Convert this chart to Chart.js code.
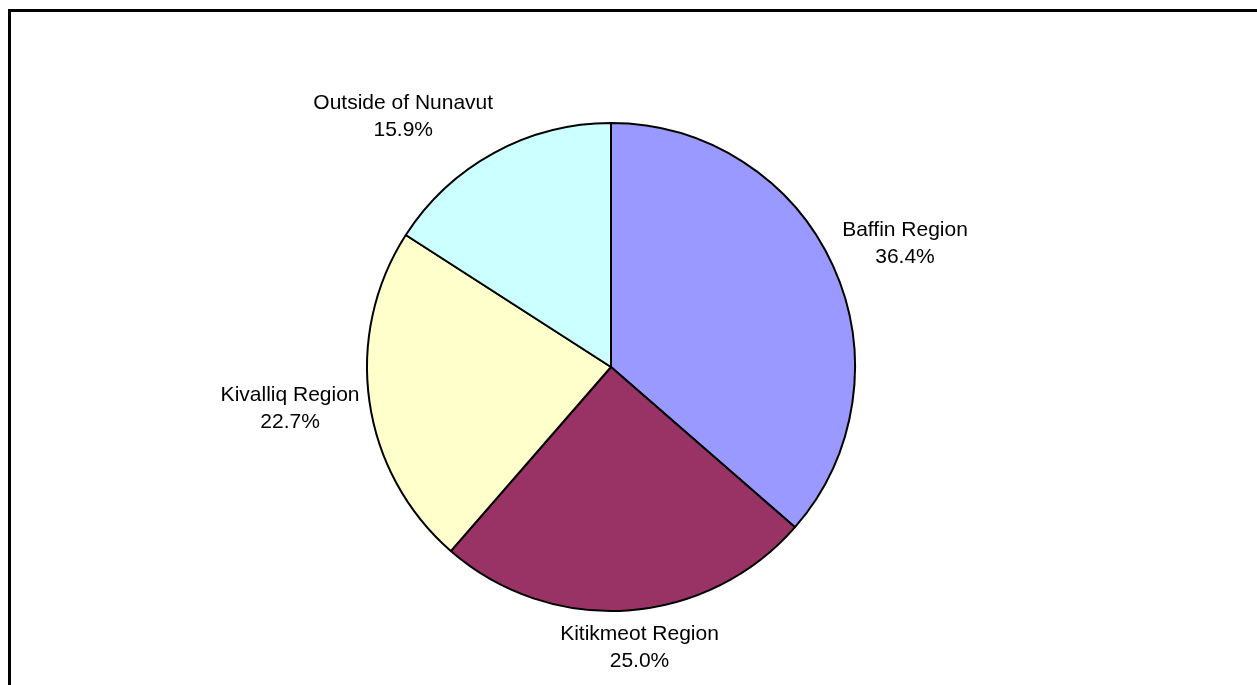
<!DOCTYPE html>
<html>
<head>
<meta charset="utf-8">
<title>Nunavut regions</title>
<script src="https://cdn.jsdelivr.net/npm/chart.js@4"></script>
<style>
  html, body { margin: 0; padding: 0; background: #fff; }
  canvas { display: block; }
</style>
</head>
<body>
<canvas id="regions-chart" width="1257" height="685"></canvas>
<script>
const categories = ['Baffin Region', 'Kitikmeot Region', 'Kivalliq Region', 'Outside of Nunavut'];
const shares = [36.4, 25.0, 22.7, 15.9];
const sliceColors = ['#9999FF', '#993366', '#FFFFCC', '#CCFFFF'];

// white page with the thick outer frame, cut off at right and bottom
const framePlugin = {
    id: 'frame',
    beforeDraw(chart) {
        const ctx = chart.ctx;
        ctx.save();
        ctx.fillStyle = '#fff';
        ctx.fillRect(0, 0, chart.width, chart.height);
        ctx.strokeStyle = '#000';
        ctx.lineWidth = 3;
        ctx.strokeRect(9.5, 10.5, chart.width + 50, chart.height + 50);
        ctx.restore();
    }
};

// two-line labels (name + percent) placed outside each slice
const outsideLabels = {
    id: 'outsideLabels',
    afterDatasetsDraw(chart) {
        const ctx = chart.ctx;
        const meta = chart.getDatasetMeta(0);
        const gap = 10;
        const lineStep = 27;
        ctx.save();
        ctx.font = '21px "Liberation Sans", Arial, sans-serif';
        ctx.fillStyle = '#000';
        ctx.textAlign = 'center';
        ctx.textBaseline = 'middle';
        meta.data.forEach((arc, i) => {
            const p = arc.getProps(['x', 'y', 'startAngle', 'endAngle', 'outerRadius'], true);
            const mid = (p.startAngle + p.endAngle) / 2;
            const dx = Math.cos(mid), dy = Math.sin(mid);
            const lines = [categories[i], shares[i].toFixed(1) + '%'];
            const w = Math.max(...lines.map(t => ctx.measureText(t).width));
            const h = lineStep * 2;
            const ax = p.x + dx * (p.outerRadius + gap);
            const ay = p.y + dy * (p.outerRadius + gap);
            const sx = Math.max(-1, Math.min(1, dx * 2));
            const sy = Math.max(-1, Math.min(1, dy * 1.6));
            const cx = ax + sx * w / 2;
            const cy = ay + sy * h / 2;
            ctx.fillText(lines[0], cx, cy - lineStep / 2);
            ctx.fillText(lines[1], cx, cy + lineStep / 2);
        });
        ctx.restore();
    }
};

new Chart(document.getElementById('regions-chart'), {
    type: 'pie',
    data: {
        labels: categories,
        datasets: [{
            data: shares,
            backgroundColor: sliceColors,
            borderColor: '#000',
            borderWidth: 2
        }]
    },
    options: {
        responsive: false,
        animation: false,
        layout: { padding: { top: 122, bottom: 73, left: 0, right: 35 } },
        plugins: {
            legend: { display: false },
            tooltip: { enabled: false }
        }
    },
    plugins: [framePlugin, outsideLabels]
});
</script>
</body>
</html>
